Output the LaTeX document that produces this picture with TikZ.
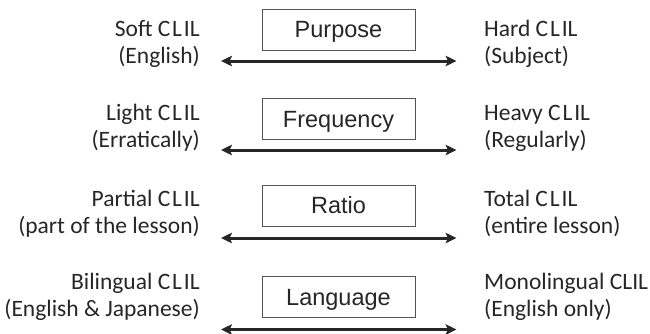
\documentclass[tikz,border=0pt]{standalone}
\usepackage{fontspec}
\setmainfont{Carlito}
\newfontfamily\boxfont{Liberation Sans}
\usetikzlibrary{arrows.meta}
\definecolor{txt}{HTML}{262626}
\definecolor{frame}{HTML}{555555}
\newcommand\clilword{{\addfontfeatures{LetterSpace=8}CLI}L}
\tikzset{
  catbox/.style={draw=frame, line width=0.9pt, minimum width=153pt, minimum height=41pt, inner sep=0pt,
    text height=16.8pt, text depth=0pt,
    font=\boxfont\fontsize{23.5}{27}\selectfont, text=txt},
  leftlab/.style={anchor=base east, inner sep=0pt, font=\fontsize{23.5}{27}\selectfont, text=txt},
  rightlab/.style={anchor=base west, inner sep=0pt, font=\fontsize{23.5}{27}\selectfont, text=txt},
  dblarrow/.style={draw=txt, line width=3pt, {Stealth[length=11pt,width=10.5pt,inset=2.5pt]}-{Stealth[length=11pt,width=10.5pt,inset=2.5pt]}}
}
\begin{document}
\begin{tikzpicture}[x=1pt,y=-1pt]
\useasboundingbox (0,0) rectangle (650,333);
% boxes
\node[catbox] (b1) at (338.5,29.5) {Purpose};
\node[catbox] (b2) at (338.5,119) {Frequency};
\node[catbox] (b3) at (338.5,205.5) {Ratio};
\node[catbox] (b4) at (338.5,297) {Language};
% arrows
\coordinate (l1) at (221,61);  \coordinate (r1) at (456.5,61);
\coordinate (l2) at (221,150); \coordinate (r2) at (456.5,150);
\coordinate (l3) at (221,238); \coordinate (r3) at (456.5,238);
\coordinate (l4) at (221,329.5); \coordinate (r4) at (456.5,329.5);
\draw[dblarrow] (l1) -- (r1);
\draw[dblarrow] (l2) -- (r2);
\draw[dblarrow] (l3) -- (r3);
\draw[dblarrow] (l4) -- (r4);
% left labels
\node[leftlab] (s1a) at (200,36) {Soft \clilword};
\node[leftlab] (s1b) at (200,63) {(English)};
\node[leftlab] (s2a) at (200,120) {Light \clilword};
\node[leftlab] (s2b) at (200,147) {(Erratically)};
\node[leftlab] (s3a) at (200,206) {Partial \clilword};
\node[leftlab] (s3b) at (200,233) {(part of the lesson)};
\node[leftlab] (s4a) at (200,289) {Bilingual \clilword};
\node[leftlab] (s4b) at (200,316) {(English \& Japanese)};
% right labels
\node[rightlab] (h1a) at (484,36) {Hard \clilword};
\node[rightlab] (h1b) at (484,63) {(Subject)};
\node[rightlab] (h2a) at (484,120) {Heavy \clilword};
\node[rightlab] (h2b) at (484,147) {(Regularly)};
\node[rightlab] (h3a) at (484,206) {Total \clilword};
\node[rightlab] (h3b) at (484,233) {(entire lesson)};
\node[rightlab] (h4a) at (484,289) {Monolingual CLIL};
\node[rightlab] (h4b) at (484,316) {(English only)};
\end{tikzpicture}
\end{document}
